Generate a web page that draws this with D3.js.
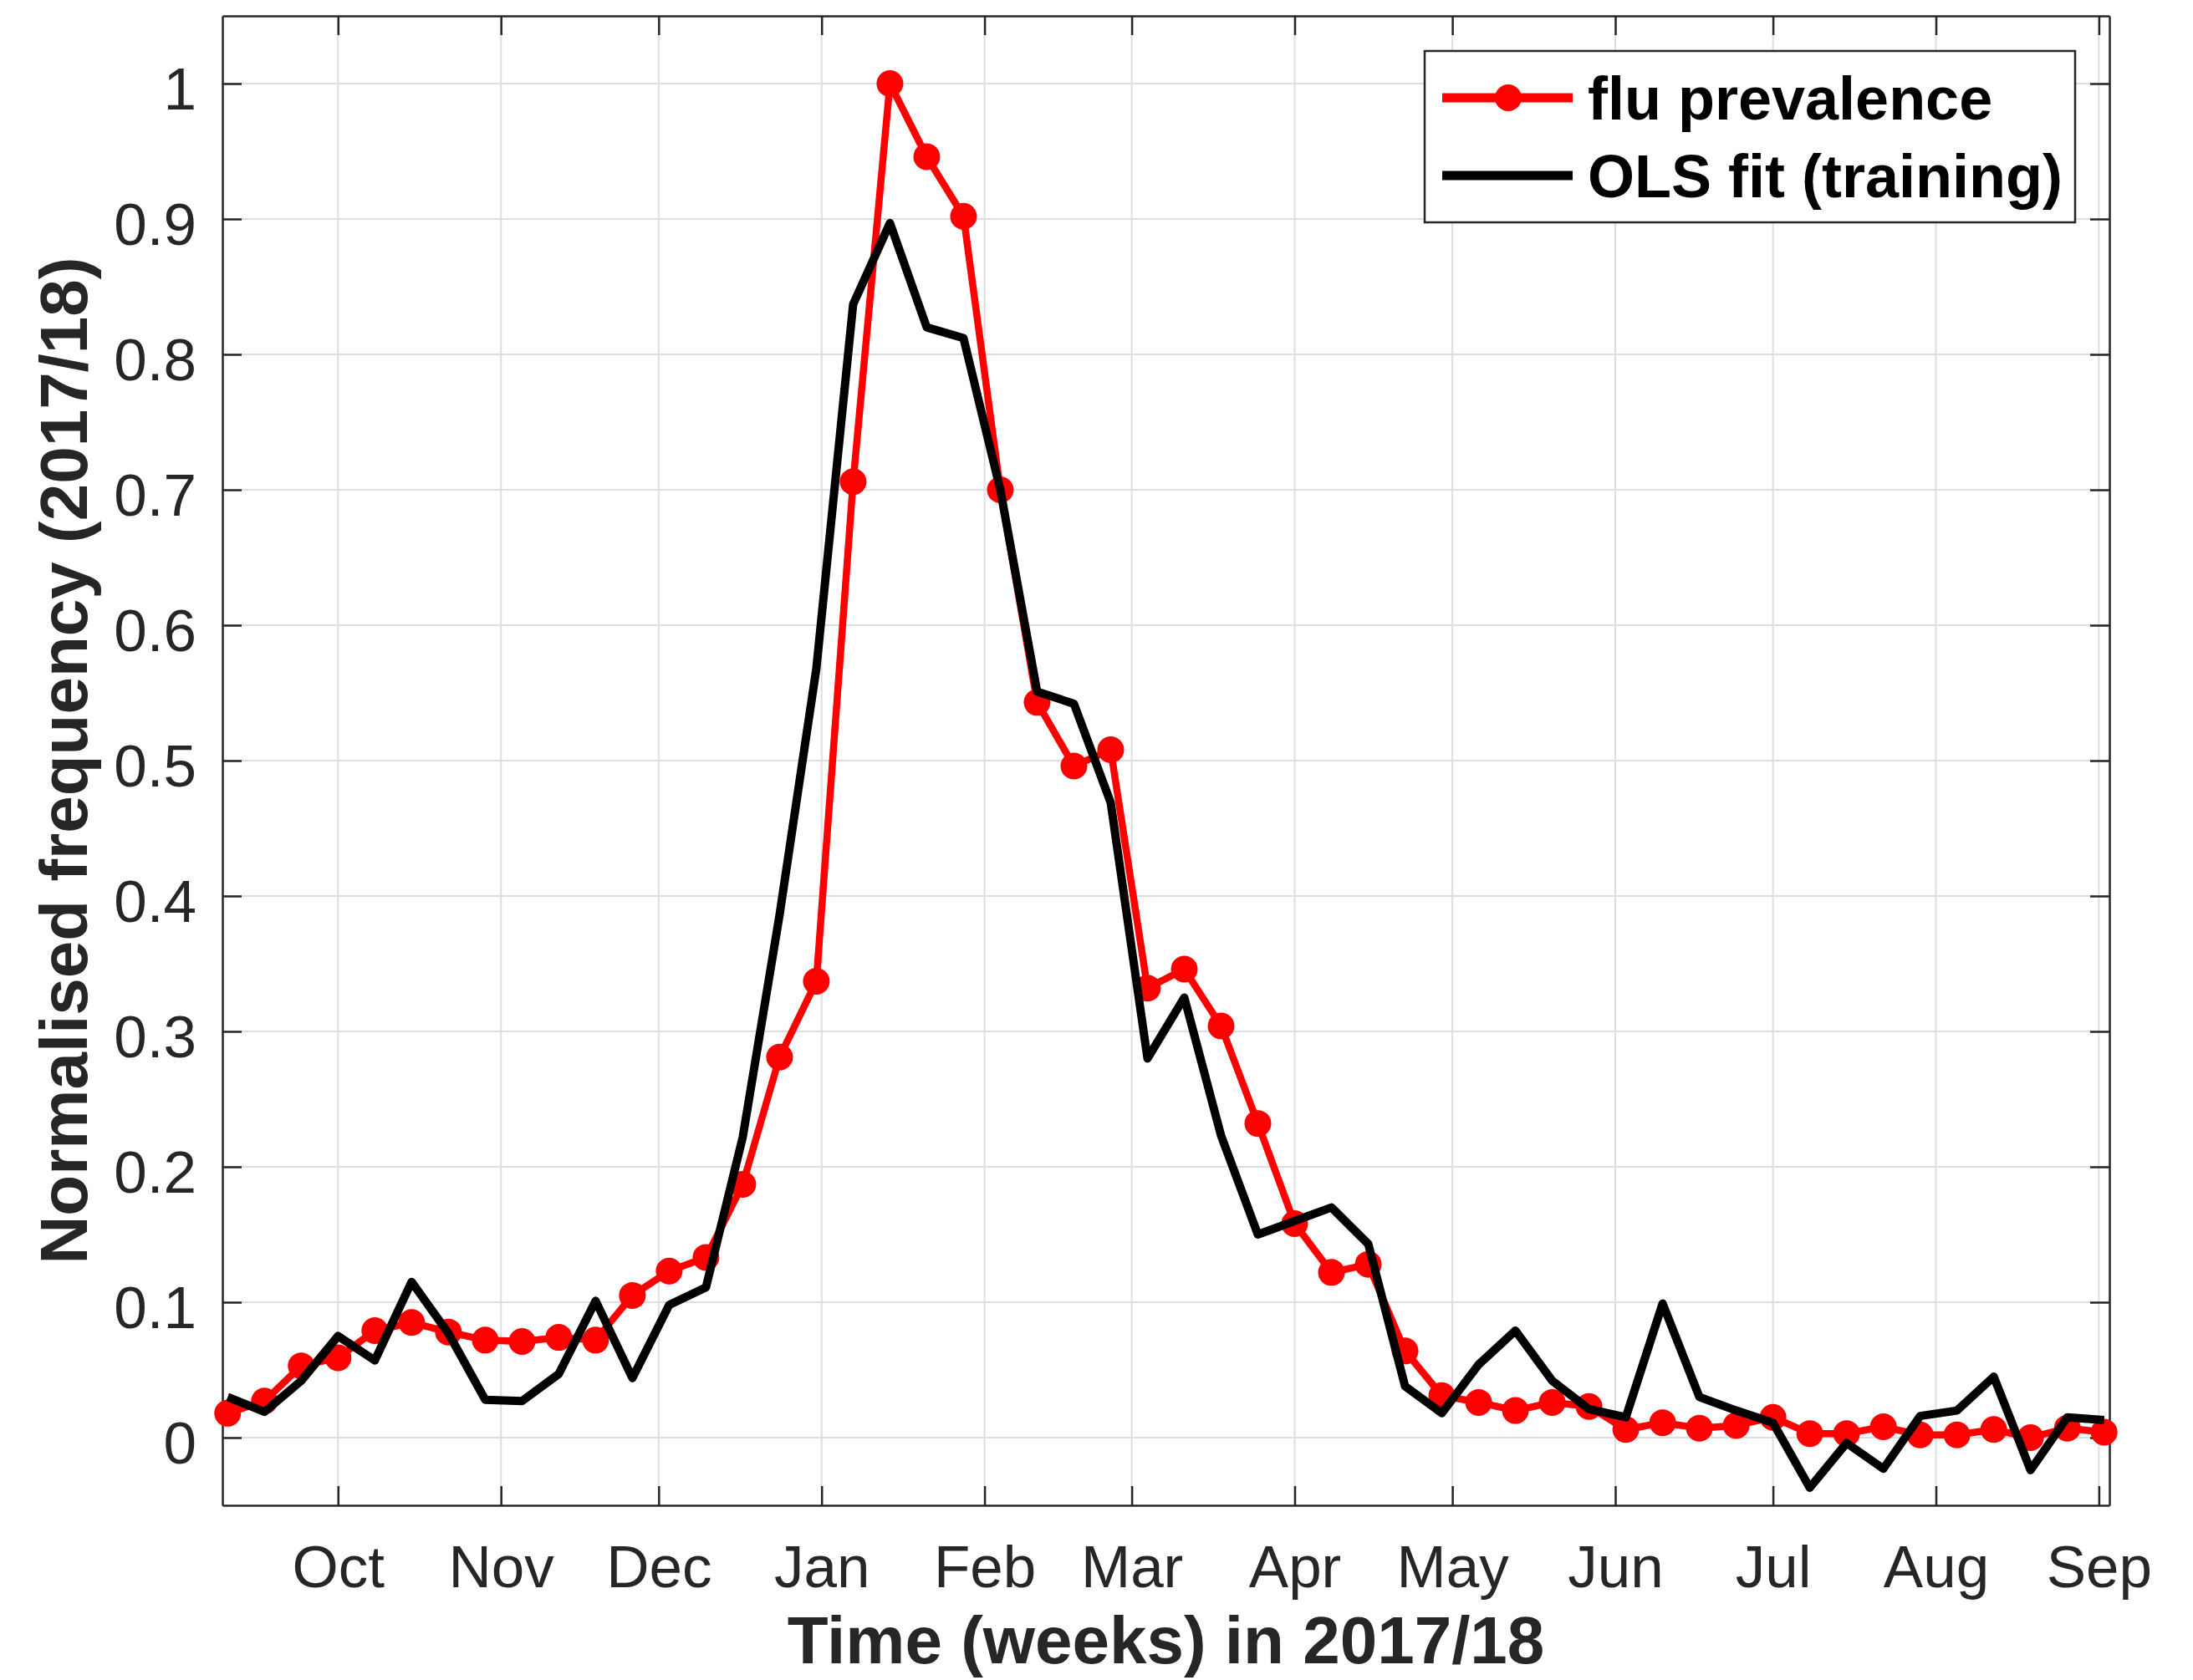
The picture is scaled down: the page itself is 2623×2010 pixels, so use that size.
<!DOCTYPE html>
<html>
<head>
<meta charset="utf-8">
<script src="https://cdn.jsdelivr.net/npm/d3@7"></script>
<style>
  html, body { margin: 0; padding: 0; background: #ffffff; }
  svg { display: block; }
  text { font-family: "Liberation Sans", Arial, Helvetica, sans-serif; }
</style>
</head>
<body>
<svg id="chart" width="2623" height="2010"></svg>
<script>
// Weekly series, 2017/18 season (first week starting 2017-09-10)
const firstWeek = "2017-09-10";
const fluPrevalence = [
  0.018, 0.027, 0.053, 0.059, 0.079, 0.085, 0.078, 0.072, 0.071, 0.074,
  0.072, 0.105, 0.123, 0.133, 0.187, 0.281, 0.337, 0.706, 1.000, 0.946,
  0.902, 0.700, 0.543, 0.496, 0.508, 0.332, 0.346, 0.304, 0.232, 0.158,
  0.122, 0.128, 0.064, 0.031, 0.026, 0.020, 0.026, 0.023, 0.006, 0.011,
  0.007, 0.009, 0.015, 0.003, 0.003, 0.008, 0.002, 0.002, 0.006, 0.000,
  0.007, 0.004
];
const olsFit = [
  0.030, 0.019, 0.042, 0.075, 0.057, 0.115, 0.077, 0.028, 0.027, 0.047,
  0.101, 0.044, 0.098, 0.111, 0.222, 0.386, 0.568, 0.837, 0.897, 0.820,
  0.812, 0.700, 0.551, 0.542, 0.469, 0.280, 0.325, 0.223, 0.150, 0.160,
  0.170, 0.143, 0.038, 0.018, 0.054, 0.079, 0.042, 0.021, 0.015, 0.099,
  0.030, 0.020, 0.011, -0.037, -0.004, -0.023, 0.016, 0.020, 0.045, -0.024,
  0.015, 0.013
];
const monthTickDates = [
  "2017-10-01", "2017-11-01", "2017-12-01", "2018-01-01", "2018-02-01", "2018-03-01",
  "2018-04-01", "2018-05-01", "2018-06-01", "2018-07-01", "2018-08-01", "2018-09-01"
];
const monthTickLabels = ["Oct", "Nov", "Dec", "Jan", "Feb", "Mar", "Apr", "May", "Jun", "Jul", "Aug", "Sep"];
const yTicks = [0, 0.1, 0.2, 0.3, 0.4, 0.5, 0.6, 0.7, 0.8, 0.9, 1];
const xDomain = ["2017-09-09", "2018-09-03"];
const yDomain = [-0.05, 1.05];
const seriesNames = ["flu prevalence", "OLS fit (training)"];

const parse = d3.utcParse("%Y-%m-%d");
const start = parse(firstWeek);
const weeks = fluPrevalence.map((_, i) => d3.utcDay.offset(start, 7 * i));
const monthTicks = monthTickDates.map(parse);

const plot = { left: 266, right: 2523, top: 19, bottom: 1801 };
const axisColor = "#262626";
const tickLen = 23;

const x = d3.scaleUtc().domain(xDomain.map(parse)).range([plot.left, plot.right]);
const y = d3.scaleLinear().domain(yDomain).range([plot.bottom, plot.top]);

const svg = d3.select("#chart");
svg.append("rect").attr("width", 2623).attr("height", 2010).attr("fill", "#ffffff");

// Grid
const grid = svg.append("g").attr("stroke", "#dedede").attr("stroke-width", 2);
grid.selectAll("line.gx").data(monthTicks).join("line")
  .attr("x1", d => x(d)).attr("x2", d => x(d))
  .attr("y1", plot.top).attr("y2", plot.bottom);
grid.selectAll("line.gy").data(yTicks).join("line")
  .attr("x1", plot.left).attr("x2", plot.right)
  .attr("y1", d => y(d)).attr("y2", d => y(d));

// Axes (ticks point inward on all four sides)
const monthFmt = d => monthTickLabels[monthTicks.findIndex(m => +m === +d)];
const yFmt = d => String(+d.toFixed(1));

function styleAxis(g) {
  g.select(".domain").attr("stroke", axisColor).attr("stroke-width", 2.5);
  g.selectAll(".tick line").attr("stroke", axisColor).attr("stroke-width", 2.5);
  g.selectAll(".tick text").attr("fill", axisColor)
    .style("font-size", "71px").style("font-family", '"Liberation Sans", Arial, sans-serif');
}

const gBottom = svg.append("g").attr("transform", `translate(0,${plot.bottom})`)
  .call(d3.axisBottom(x).tickValues(monthTicks).tickFormat(monthFmt)
    .tickSize(-tickLen).tickSizeOuter(0))
  .call(styleAxis);
gBottom.selectAll(".tick text").attr("y", 98).attr("dy", 0);

svg.append("g").attr("transform", `translate(0,${plot.top})`)
  .call(d3.axisTop(x).tickValues(monthTicks).tickFormat("")
    .tickSize(-tickLen).tickSizeOuter(0))
  .call(styleAxis);

const gLeft = svg.append("g").attr("transform", `translate(${plot.left},0)`)
  .call(d3.axisLeft(y).tickValues(yTicks).tickFormat(yFmt)
    .tickSize(-tickLen).tickSizeOuter(0).tickPadding(31))
  .call(styleAxis);
gLeft.selectAll(".tick text").attr("dy", 0).attr("y", 30.5);

svg.append("g").attr("transform", `translate(${plot.right},0)`)
  .call(d3.axisRight(y).tickValues(yTicks).tickFormat("")
    .tickSize(-tickLen).tickSizeOuter(0))
  .call(styleAxis);

// Axis titles
svg.append("text")
  .attr("x", (plot.left + plot.right) / 2).attr("y", 1990)
  .attr("text-anchor", "middle").attr("fill", axisColor)
  .style("font-size", "80px").style("font-weight", "bold")
  .text("Time (weeks) in 2017/18");

svg.append("text")
  .attr("transform", `translate(104,${(plot.top + plot.bottom) / 2}) rotate(-90)`)
  .attr("text-anchor", "middle").attr("fill", axisColor)
  .style("font-size", "80px").style("font-weight", "bold")
  .text("Normalised frequency (2017/18)");

// Series
const line = d3.line().x((d, i) => x(weeks[i])).y(d => y(d));

svg.append("path").datum(fluPrevalence)
  .attr("d", line).attr("fill", "none").attr("stroke", "#ff0000")
  .attr("stroke-width", 8.5).attr("stroke-linejoin", "round");

svg.append("g").selectAll("circle").data(fluPrevalence).join("circle")
  .attr("cx", (d, i) => x(weeks[i])).attr("cy", d => y(d))
  .attr("r", 16).attr("fill", "#ff0000");

svg.append("path").datum(olsFit)
  .attr("d", line).attr("fill", "none").attr("stroke", "#000000")
  .attr("stroke-width", 10).attr("stroke-linejoin", "round");

// Legend
const legend = svg.append("g");
legend.append("rect")
  .attr("x", 1704).attr("y", 61).attr("width", 778).attr("height", 205)
  .attr("fill", "#ffffff").attr("stroke", axisColor).attr("stroke-width", 2.5);

const legendRows = [
  { name: seriesNames[0], color: "#ff0000", marker: true, cy: 117 },
  { name: seriesNames[1], color: "#000000", marker: false, cy: 210 }
];
legendRows.forEach(r => {
  legend.append("line")
    .attr("x1", 1725).attr("x2", 1881).attr("y1", r.cy).attr("y2", r.cy)
    .attr("stroke", r.color).attr("stroke-width", 11);
  if (r.marker) {
    legend.append("circle").attr("cx", 1804).attr("cy", r.cy).attr("r", 16).attr("fill", r.color);
  }
  legend.append("text")
    .attr("x", 1899).attr("y", r.cy + 26)
    .attr("fill", "#000000")
    .style("font-size", "72px").style("font-weight", "bold")
    .text(r.name);
});
</script>
</body>
</html>
